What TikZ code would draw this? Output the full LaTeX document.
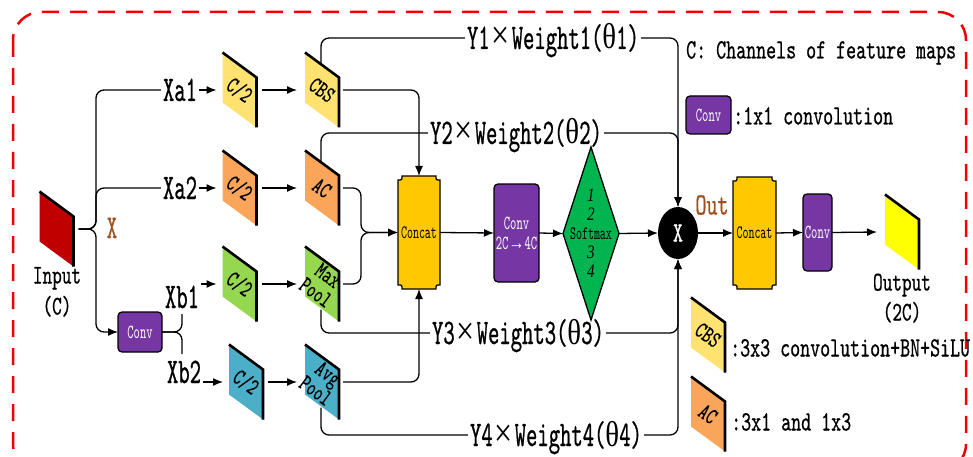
\documentclass[tikz,border=0pt]{standalone}
\usepackage{fontspec}
\usetikzlibrary{arrows.meta,shapes.geometric,calc}
\newfontfamily\tf[FakeStretch=0.6,FakeBold=0.6]{lmmono10-regular.otf}
\newfontfamily\tfl[FakeStretch=0.68,FakeBold=0.6]{lmmono10-regular.otf}
\newfontfamily\tfs[FakeStretch=0.6]{lmmono10-regular.otf}
\newfontfamily\tfsl[FakeStretch=0.68,FakeBold=0.2]{lmmono10-regular.otf}
\newfontfamily\grk[FakeStretch=0.8]{Liberation Serif}
\definecolor{cinput}{RGB}{192,0,0}
\definecolor{cyel}{RGB}{255,226,112}
\definecolor{corange}{RGB}{250,165,90}
\definecolor{cgreen}{RGB}{150,215,80}
\definecolor{cblue}{RGB}{75,175,200}
\definecolor{cgold}{RGB}{255,200,0}
\definecolor{cpurple}{RGB}{118,55,165}
\definecolor{csm}{RGB}{0,180,80}
\definecolor{cout}{RGB}{255,255,0}
\definecolor{cbrown}{RGB}{160,80,30}
\definecolor{cborder}{RGB}{240,0,0}
\newcommand\fsz[1]{\fontsize{#1}{#1}\selectfont}
\newcommand\mulsign{\makebox[22pt]{\grk\fsz{40}×}}
\newcommand\thet{{\grk θ}}
\newcommand\pgram[4]{%
  \node[pnode] (#1) at (#2) {};
  \fill[#3] (#1.north west) -- ($(#1.north east)+(0,25)$) -- (#1.south east) -- ($(#1.south west)+(0,-25)$) -- cycle;
  \draw[line width=2.6pt] (#1.north west) -- ($(#1.north east)+(0,25)$) -- (#1.south east);
  \node[ptext, rotate=-36] at (#1.center) {#4};
}
\newcommand\concatshape[2]{%
  \filldraw[fill=cgold, line width=1.3pt]
   ([xshift=4pt]#1.north west) -- ([xshift=-4pt]#1.north east)
   .. controls ([xshift=-4pt,yshift=-4pt]#1.north east) .. ([yshift=-4pt]#1.north east)
   -- ([yshift=4pt]#1.south east)
   .. controls ([xshift=-4pt,yshift=4pt]#1.south east) .. ([xshift=-4pt]#1.south east)
   -- ([xshift=4pt]#1.south west)
   .. controls ([xshift=4pt,yshift=4pt]#1.south west) .. ([yshift=4pt]#1.south west)
   -- ([yshift=-4pt]#1.north west)
   .. controls ([xshift=4pt,yshift=-4pt]#1.north west) .. ([xshift=4pt]#1.north west) -- cycle;
  \node[font=\tfs\fsz{19}, inner sep=0pt] at (#1.center) {#2};
}
\begin{document}
\begin{tikzpicture}[x=1pt,y=-1pt,
  conn/.style={line width=1.3pt, rounded corners=8pt},
  arr/.style={conn, -{Latex[length=10pt,width=8pt]}},
  pnode/.style={minimum width=34pt, minimum height=75pt, inner sep=0pt, outer sep=0pt},
  ptext/.style={font=\tfsl\fontsize{24}{21}\selectfont, align=center, inner sep=0pt},
  lab/.style={font=\tf\fsz{36}, text height=22pt, text depth=0pt, inner sep=2pt},
  cnode/.style={minimum width=42pt, minimum height=113pt, inner sep=0pt, outer sep=0pt},
  convbox/.style={rounded corners=4pt, fill=cpurple, draw=black, line width=1.3pt, text=white, inner sep=0pt, outer sep=0pt, align=center, font=\tfs\fsz{20}},
  legt/.style={font=\tfl\fsz{28}, anchor=west, text height=17pt, text depth=0pt, inner sep=0pt},
  sub/.style={font=\tfl\fsz{27}, text height=17pt, text depth=0pt, inner sep=0pt}]
\useasboundingbox (0,0) rectangle (973,457);
\draw[cborder, line width=2.5pt, dash pattern=on 17pt off 11pt, rounded corners=28pt] (13,12) rectangle (966,472);

% parallelogram blocks
\pgram{inp}{56.5,229}{cinput}{}
\pgram{c2a}{239.5,90}{cyel}{C/2}
\pgram{cbs}{322,90}{cyel}{CBS}
\pgram{c2b}{239.5,188}{corange}{C/2}
\pgram{ac}{322,188}{corange}{AC}
\pgram{c2c}{239.5,284}{cgreen}{C/2}
\pgram{maxp}{322,284}{cgreen}{Max\\Pool}
\pgram{c2d}{246,382}{cblue}{C/2}
\pgram{avgp}{322,382}{cblue}{Avg\\Pool}
\pgram{outp}{902,232}{cout}{}
\pgram{lcbs}{708,335}{cyel}{CBS}
\pgram{lac}{708,414}{corange}{AC}

% concat blocks
\node[cnode] (concat) at (419,232.5) {};
\concatshape{concat}{Concat}
\node[cnode, minimum width=43pt, minimum height=112pt] (concat2) at (754.5,233) {};
\concatshape{concat2}{Concat}

% conv boxes
\node[convbox, minimum width=44pt, minimum height=40pt] (convs) at (140,332) {Conv};
\node[convbox, minimum width=45pt, minimum height=98pt] (conv2) at (516.5,233) {\fontsize{20}{20}\selectfont Conv\\2C{\grk →}4C};
\node[convbox, minimum width=29pt, minimum height=77pt] (conv3) at (817.5,232.5) {Conv};
\node[convbox, minimum width=45pt, minimum height=38pt] (lconv) at (708.5,115) {Conv};

% softmax and multiply
\node[diamond, draw, fill=csm, line width=1.3pt, minimum width=56pt, minimum height=173pt, inner sep=0pt, outer sep=0pt] (sm) at (591,233.5) {};
\node[font=\tfs\fontsize{19}{19}\selectfont, align=center, inner sep=0pt] (smt) at (sm.center) {{\grk\itshape 1}\\{\grk\itshape 2}\\Softmax\\{\grk\itshape 3}\\{\grk\itshape 4}};
\node[ellipse, fill=black, minimum width=40pt, minimum height=52pt, inner sep=0pt, outer sep=0pt, text=white, font=\tfl\fsz{28}] (mul) at (678,233) {X};

% labels
\node[lab] (xa1) at (180,90) {Xa1};
\node[lab] (xa2) at (180,188) {Xa2};
\node[lab] (xb1) at (182,297) {Xb1};
\node[lab] (xb2) at (184,372) {Xb2};
\node[lab] (y1) at (553,38) {Y1\mulsign Weight1(\thet1)};
\node[lab] (y2) at (516,133) {Y2\mulsign Weight2(\thet2)};
\node[lab] (y3) at (518,333) {Y3\mulsign Weight3(\thet3)};
\node[lab] (y4) at (556,435) {Y4\mulsign Weight4(\thet4)};
\node[font=\tf\fsz{33}, text=cbrown, text height=20pt, text depth=0pt, inner sep=0pt] (xlab) at (112,228) {X};
\node[font=\tfl\fsz{31}, text=cbrown, text height=19pt, text depth=0pt, inner sep=0pt] (outlab) at (712,205) {Out};
\node[sub] (inl1) at (57,275) {Input};
\node[sub] (inl2) at (57,306) {(C)};
\node[sub] (outl1) at (902,282) {Output};
\node[sub] (outl2) at (902,312) {(2C)};

% legend
\node[legt] (leg0) at (686,50) {C: Channels of feature maps};
\node[legt] (leg1) at (733,116) {:1x1 convolution};
\node[legt] (leg2) at (730,348) {:3x3 convolution+BN+SiLU};
\node[legt] (leg3) at (731,422) {:3x1 and 1x3};

% input brace
\coordinate (jx) at (96,229);
\draw[conn] ([xshift=5pt]inp.east) -- (jx) |- (xa1.west);
\draw[conn] ([xshift=5pt]inp.east) -- (jx) |- (xa2.west);
\draw[arr] ([xshift=5pt]inp.east) -- (jx) |- (convs.west);
% conv brace
\coordinate (jb) at (182,332);
\coordinate (jbu) at (182,314);
\coordinate (jbd) at (182,354);
\draw[conn] (convs.east) -- (jb) -- (jbu);
\draw[conn] (convs.east) -- (jb) -- (jbd);
% label arrows
\draw[arr] (xa1.east) -- ([xshift=-6pt]c2a.west);
\draw[arr] (xa2.east) -- ([xshift=-6pt]c2b.west);
\draw[arr] (xb1.east |- c2c.west) -- ([xshift=-6pt]c2c.west);
\draw[arr] (xb2.east |- c2d.west) -- ([xshift=-6pt]c2d.west);
% row arrows
\draw[arr] ([xshift=5pt]c2a.east) -- ([xshift=-8pt]cbs.west);
\draw[arr] ([xshift=5pt]c2b.east) -- ([xshift=-8pt]ac.west);
\draw[arr] ([xshift=5pt]c2c.east) -- ([xshift=-8pt]maxp.west);
\draw[arr] ([xshift=5pt]c2d.east) -- ([xshift=-8pt]avgp.west);
% to concat
\coordinate (j1) at (361,232.5);
\draw[arr] ([xshift=4pt]cbs.east) -| (concat.north);
\draw[arr] ([xshift=4pt]ac.east) -| (j1) -- (concat.west);
\draw[arr] ([xshift=4pt]maxp.east) -| (j1) -- (concat.west);
\draw[arr] ([xshift=4pt]avgp.east) -| (concat.south);
% weighted paths
\draw[conn] ($(cbs.north west)+(16,12)$) |- (y1.west);
\draw[arr] (y1.east) -| (mul.north);
\draw[conn] ($(ac.north west)+(16,12)$) |- (y2.west);
\draw[arr] (y2.east) -| (mul.north);
\draw[conn] ($(maxp.south west)+(16,-12)$) |- (y3.west);
\draw[arr] (y3.east) -| (mul.south);
\draw[conn] ($(avgp.south west)+(16,-12)$) |- (y4.west);
\draw[arr] (y4.east) -| (mul.south);
% main row
\draw[arr] (concat.east) -- (conv2.west);
\draw[arr] (conv2.east) -- (sm.west);
\draw[arr] (sm.east) -- (mul.west);
\draw[arr] (mul.east) -- (concat2.west);
\draw[arr] (concat2.east) -- (conv3.west);
\draw[arr] (conv3.east) -- ([xshift=-8pt]outp.west);
\end{tikzpicture}
\end{document}
